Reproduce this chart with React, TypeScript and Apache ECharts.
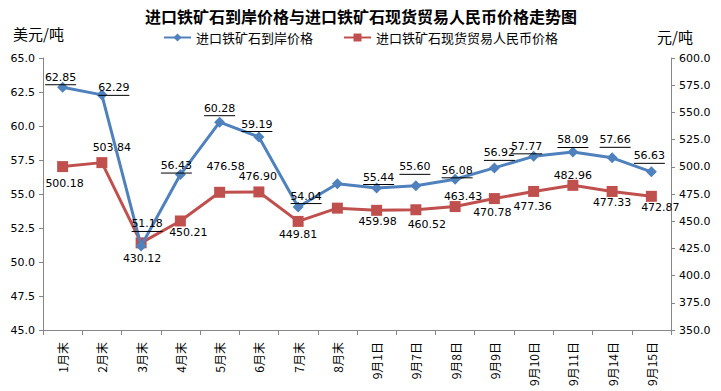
import React, { useEffect, useRef } from "react";
import * as echarts from "echarts";

const categories = ["1月末", "2月末", "3月末", "4月末", "5月末", "6月末", "7月末", "8月末", "9月1日", "9月7日", "9月8日", "9月9日", "9月10日", "9月11日", "9月14日", "9月15日"];
const usdPrice = [62.85, 62.29, 51.18, 56.43, 60.28, 59.19, 54.04, 55.75, 55.44, 55.6, 56.08, 56.92, 57.77, 58.09, 57.66, 56.63];
const rmbPrice = [500.18, 503.84, 430.12, 450.21, 476.58, 476.9, 449.81, 462.0, 459.98, 460.52, 463.43, 470.78, 477.36, 482.96, 477.33, 472.87];
const leftTicks = { min: 45, max: 65, interval: 2.5 };
const rightTicks = { min: 350, max: 600, interval: 25 };
const hiddenLabelIndex = 7;

// label offsets (px) relative to each point
const usdLabelOffsets: [number, number][] = [
  [-2, -10], [12, -7], [6, -22], [-4, -9], [0, -14], [-2, -13], [8, -11], [0, 0],
  [2, -11], [-1, -19], [2, -9], [5, -15], [-7, -10], [0, -12], [3, -18], [-2, -16],
];
const rmbLabelOffsets: [number, number][] = [
  [2, 17], [10, -15], [1, 16], [8, 12], [6, -26], [-1, -15], [0, 13], [0, 0],
  [1, 11], [11, 15], [8, -10], [-2, 14], [-1, 15], [0, -10], [0, 11], [9, 11],
];

const BLUE = "#4F81BD";
const RED = "#C0504D";
const NUM_FONT = "DejaVu Sans, Verdana, sans-serif";
const CJK_FONT = "Noto Sans CJK SC, sans-serif";

export default function App() {
  const ref = useRef<HTMLDivElement>(null);
  useEffect(() => {
    if (!ref.current) return;
    const chart = echarts.init(ref.current, undefined, { renderer: "svg" });
    const axisLine = { show: true, lineStyle: { color: "#868686", width: 1 } };
    const axisLabel = { color: "#000", fontSize: 11, fontFamily: NUM_FONT, formatter: (v: number) => v.toFixed(1) };
    chart.setOption({
      animation: false,
      backgroundColor: "#fff",
      title: {
        text: "进口铁矿石到岸价格与进口铁矿石现货贸易人民币价格走势图",
        left: 140,
        top: 3,
        textStyle: { fontSize: 16, fontWeight: "bold", color: "#000", fontFamily: CJK_FONT },
      },
      legend: {
        top: 26,
        left: "center",
        itemGap: 30,
        itemWidth: 27,
        itemHeight: 10,
        textStyle: { fontSize: 13, color: "#000", fontFamily: CJK_FONT },
        data: ["进口铁矿石到岸价格", "进口铁矿石现货贸易人民币价格"],
      },
      graphic: [
        { type: "text", left: 13, top: 26, style: { text: "美元/吨", fontSize: 15, fill: "#000", fontFamily: CJK_FONT } },
        { type: "text", left: 657, top: 29, style: { text: "元/吨", fontSize: 15, fill: "#000", fontFamily: CJK_FONT } },
      ],
      grid: { left: 43, right: 50, top: 58, bottom: 61, containLabel: false },
      xAxis: {
        type: "category",
        data: categories,
        boundaryGap: true,
        axisLine,
        axisTick: { show: true, length: 5, lineStyle: { color: "#868686" } },
        axisLabel: { rotate: 90, color: "#000", fontSize: 12, margin: 12, fontFamily: CJK_FONT, interval: 0 },
        splitLine: { show: false },
      },
      yAxis: [
        {
          type: "value",
          ...leftTicks,
          position: "left",
          axisLine,
          axisTick: { show: true, length: 4, lineStyle: { color: "#868686" } },
          axisLabel,
          splitLine: { show: false },
        },
        {
          type: "value",
          ...rightTicks,
          position: "right",
          axisLine,
          axisTick: { show: true, length: 4, lineStyle: { color: "#868686" } },
          axisLabel: { ...axisLabel, margin: 8 },
          splitLine: { show: false },
        },
      ],
      series: [
        {
          name: "进口铁矿石到岸价格",
          type: "line",
          yAxisIndex: 0,
          symbol: "diamond",
          symbolSize: 11,
          lineStyle: { color: BLUE, width: 3 },
          itemStyle: { color: BLUE },
          z: 3,
          data: usdPrice.map((v, i) => ({
            value: v,
            label: {
              show: i !== hiddenLabelIndex,
              position: "inside",
              offset: [usdLabelOffsets[i][0], usdLabelOffsets[i][1] + 1],
              formatter: (p: any) => `{v|${Number(p.value).toFixed(2)}}\n{u| }`,
              rich: {
                v: { fontSize: 11, lineHeight: 13, color: "#000", fontFamily: NUM_FONT, align: "center" },
                u: { width: 31, height: 1, lineHeight: 2, fontSize: 1, backgroundColor: "#000", align: "center" },
              },
            },
          })),
        },
        {
          name: "进口铁矿石现货贸易人民币价格",
          type: "line",
          yAxisIndex: 1,
          symbol: "rect",
          symbolSize: 11,
          lineStyle: { color: RED, width: 3 },
          itemStyle: { color: RED },
          z: 2,
          data: rmbPrice.map((v, i) => ({
            value: v,
            label: {
              show: i !== hiddenLabelIndex,
              position: "inside",
              offset: rmbLabelOffsets[i],
              formatter: (p: any) => Number(p.value).toFixed(2),
              fontSize: 11,
              color: "#000",
              fontFamily: NUM_FONT,
            },
          })),
        },
      ],
    });
    return () => chart.dispose();
  }, []);
  return <div ref={ref} style={{ width: 721, height: 391, position: "absolute", left: 0, top: 0 }} />;
}
